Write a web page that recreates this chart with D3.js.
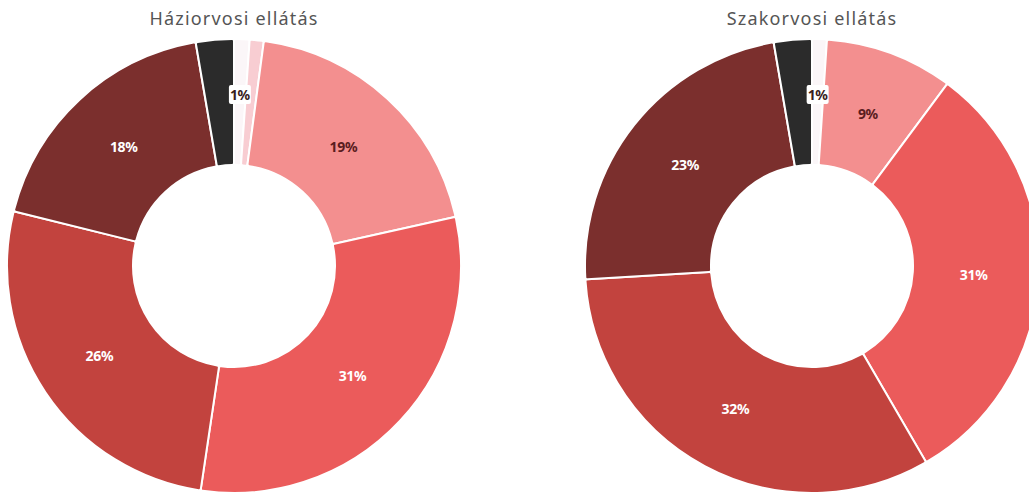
<!DOCTYPE html>
<html>
<head>
<meta charset="utf-8">
<script src="https://cdn.jsdelivr.net/npm/d3@7"></script>
<style>
    body { margin: 0; background: #fff; }
</style>
</head>
<body>
<div id="container"></div>
<script>
const titles = ["Háziorvosi ellátás", "Szakorvosi ellátás"];
const categories = ["a", "b", "c", "d", "e", "f", "g"];
const colors = ["#fbf6f8", "#f8cdd2", "#f38f8f", "#eb5b5b", "#c2433e", "#7b2f2d", "#2b2b2b"];
const haziValues = [1.1, 1.0, 19.4, 30.8, 26.5, 18.4, 2.7];
const szakValues = [1.05, 0, 9.1, 31.4, 32.4, 23.2, 2.7];
const haziLabels = ["1%", "", "19%", "31%", "26%", "18%", ""];
const szakLabels = ["1%", "", "9%", "31%", "32%", "23%", ""];
const labelColors = ["#3a1d1d", "#3a1d1d", "#5a1c20", "#fff", "#fff", "#fff", "#fff"];

const width = 1029;
const height = 494;
const outerR = 227;
const innerR = 101;
const centers = [[234, 266], [812, 266]];

const svg = d3.select("#container")
    .append("svg")
    .attr("width", width)
    .attr("height", height);

function drawDonut(i, values, labels) {
    const [cx, cy] = centers[i];
    const data = categories.map((c, k) => ({cat: c, value: values[k], label: labels[k], idx: k}));

    const pie = d3.pie()
        .sort(null)
        .value(d => d.value);

    const arc = d3.arc()
        .innerRadius(innerR)
        .outerRadius(outerR)
        .cornerRadius(2);

    const labelArc = d3.arc()
        .innerRadius(162)
        .outerRadius(162);
    const smallArc = d3.arc()
        .innerRadius(171)
        .outerRadius(171);

    const g = svg.append("g")
        .attr("transform", `translate(${cx},${cy})`);

    g.selectAll("path")
        .data(pie(data).filter(d => d.data.value > 0))
        .join("path")
        .attr("d", arc)
        .attr("fill", d => colors[d.data.idx])
        .attr("stroke", "#fff")
        .attr("stroke-width", 2);

    // labels
    const lab = g.selectAll("g.lab")
        .data(pie(data).filter(d => d.data.label !== ""))
        .join("g")
        .attr("class", "lab")
        .attr("transform", d => `translate(${(d.data.idx === 0 ? smallArc : labelArc).centroid(d)})`);

    lab.filter(d => d.data.idx === 0)
        .append("rect")
        .attr("x", -11)
        .attr("y", -10)
        .attr("width", 22)
        .attr("height", 19)
        .attr("rx", 2)
        .attr("fill", "#fff");

    lab.append("text")
        .attr("text-anchor", "middle")
        .attr("dy", "0.35em")
        .style("font-family", "'Noto Sans', sans-serif")
        .style("font-weight", "bold")
        .style("font-size", "14px")
        .style("letter-spacing", "-0.3px")
        .attr("fill", d => labelColors[d.data.idx])
        .text(d => d.data.label);

    svg.append("text")
        .attr("x", cx)
        .attr("y", 25)
        .attr("text-anchor", "middle")
        .style("font-family", "'Noto Sans', sans-serif")
        .style("font-size", "18px")
        .style("letter-spacing", "1.2px")
        .attr("fill", "#555")
        .text(titles[i]);
}

drawDonut(0, haziValues, haziLabels);
drawDonut(1, szakValues, szakLabels);
</script>
</body>
</html>
